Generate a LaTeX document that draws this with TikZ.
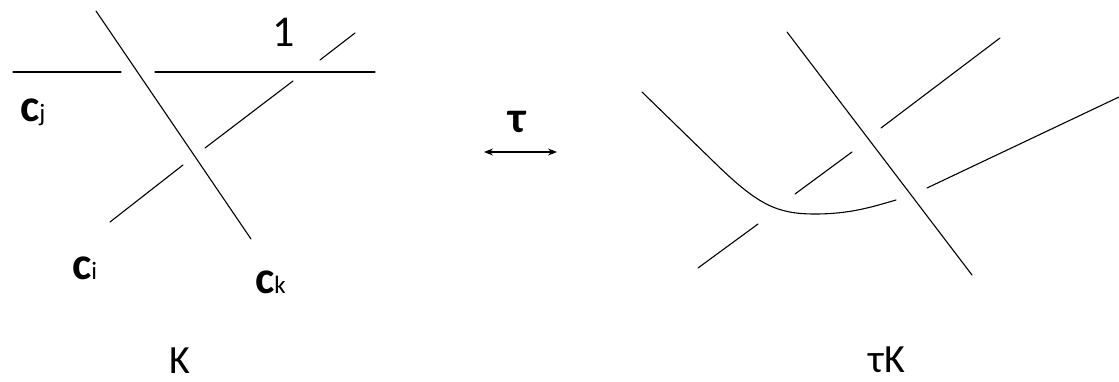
\documentclass[tikz,border=0pt]{standalone}
\usepackage{fontspec}
\setmainfont{Carlito}
\usetikzlibrary{arrows.meta}
\tikzset{
  strand/.style={line width=1.1pt, line cap=round},
  lbl/.style={inner sep=0pt, anchor=base},
  clabel/.style={inner sep=0pt, anchor=base west},
}
\newcommand{\cname}[1]{{\fontsize{46}{48}\selectfont\bfseries c}{\fontsize{25}{26}\selectfont #1}}
\begin{document}
\begin{tikzpicture}[x=1pt,y=-1pt]
\useasboundingbox (0,0) rectangle (1119,382);
% ---------- left diagram K ----------
\coordinate (hA1) at (13,72);   \coordinate (hA2) at (121,72);
\coordinate (hB1) at (155,72);  \coordinate (hB2) at (375,72);
\coordinate (dA) at (96,11);    \coordinate (dB) at (251,239);
\coordinate (s1a) at (110,222); \coordinate (s1b) at (183,165);
\coordinate (s2a) at (205,148); \coordinate (s2b) at (293,81);
\coordinate (s3a) at (320,60);  \coordinate (s3b) at (355,33);
\draw[strand] (hA1) -- (hA2);
\draw[strand] (hB1) -- (hB2);
\draw[strand] (dA) -- (dB);
\draw[strand] (s1a) -- (s1b);
\draw[strand] (s2a) -- (s2b);
\draw[strand] (s3a) -- (s3b);
\node[lbl] (one) at (284,47) {\fontsize{44}{48}\selectfont 1};
\node[clabel] (cj) at (20,122) {\cname{j}};
\node[clabel] (ci) at (72,279) {\cname{i}};
\node[clabel] (ck) at (255,293) {\cname{k}};
\node[lbl] (K) at (180,373) {\fontsize{40}{44}\selectfont K};
% ---------- middle ----------
\node[lbl] (tau) at (517,133) {\fontsize{44}{46}\selectfont\bfseries τ};
\coordinate (arL) at (484,152); \coordinate (arR) at (557,152);
\draw[line width=1.1pt, {Stealth[length=9pt,width=7pt]}-{Stealth[length=9pt,width=7pt]}] (arL) -- (arR);
% ---------- right diagram tau K ----------
\coordinate (rdA) at (787,32);  \coordinate (rdB) at (972,275);
\coordinate (cvA) at (642,92);  \coordinate (cvB) at (896,200);
\coordinate (cvC) at (927,188); \coordinate (cvD) at (1119,97);
\coordinate (t1a) at (698,268); \coordinate (t1b) at (758,224);
\coordinate (t2a) at (795,194); \coordinate (t2b) at (852,152);
\coordinate (t3a) at (881,128); \coordinate (t3b) at (1000,38);
\draw[strand] (rdA) -- (rdB);
\draw[strand] (cvA) -- (715,163) .. controls (758,205) and (777,214) .. (815,214)
      .. controls (850,214) and (872,207) .. (cvB);
\draw[strand] (cvC) -- (cvD);
\draw[strand] (t1a) -- (t1b);
\draw[strand] (t2a) -- (t2b);
\draw[strand] (t3a) -- (t3b);
\node[lbl] (tauK) at (887,372) {\fontsize{40}{44}\selectfont τK};
\end{tikzpicture}
\end{document}
